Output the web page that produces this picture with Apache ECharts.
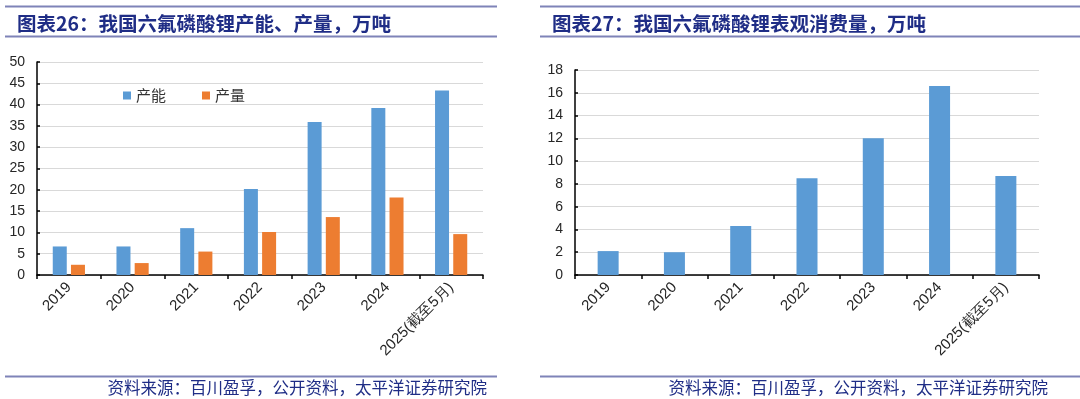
<!DOCTYPE html>
<html>
<head>
<meta charset="utf-8">
<script src="https://cdn.jsdelivr.net/npm/echarts@6/dist/echarts.min.js"></script>
<style>
  html, body { margin: 0; padding: 0; background: #fff; }
  #chart { width: 1080px; height: 399px; }
</style>
</head>
<body>
<div id="chart"></div>
<script>
// 图表26：产能、产量（万吨）
const years = ["2019", "2020", "2021", "2022", "2023", "2024", "2025(截至5月)"]
const capacity = [6.7, 6.7, 11.0, 20.2, 35.9, 39.2, 43.3]
const output = [2.4, 2.8, 5.5, 10.1, 13.6, 18.2, 9.6]
// 图表27：表观消费量（万吨）
const consumption = [2.1, 2.0, 4.3, 8.5, 12.0, 16.6, 8.7]

const NAVY = "#1f2d86"
const RULE = "#7f83b8"
const latin = "'Liberation Sans', Arial, sans-serif"
const cjk = "'Noto Sans CJK SC', sans-serif"

const chart = echarts.init(document.getElementById("chart"))

function xAxis(gridIndex) {
  return {
    type: "category", gridIndex, data: years,
    axisLine: { lineStyle: { color: "#000", width: 1.5 } },
    axisTick: { show: true, alignWithLabel: false, length: 4, lineStyle: { color: "#000", width: 1.5 } },
    axisLabel: { rotate: 45, interval: 0, margin: 10, color: "#262626", fontSize: 15, fontFamily: latin },
  }
}

function yAxis(gridIndex, max, interval) {
  return {
    type: "value", gridIndex, min: 0, max, interval,
    axisLine: { show: true, lineStyle: { color: "#000", width: 1.5 } },
    axisTick: { show: true, inside: true, length: 3, lineStyle: { color: "#000", width: 1.5 } },
    axisLabel: { color: "#262626", fontSize: 14, fontFamily: latin, margin: 12 },
    splitLine: { lineStyle: { color: "#d9d9d9", width: 1.2 } },
  }
}

// 标题与来源的横线、文字
function panel(x0, x1, title, srcRight) {
  return [
    { type: "line", shape: { x1: x0, y1: 6.5, x2: x1, y2: 6.5 }, style: { stroke: RULE, lineWidth: 2 } },
    { type: "line", shape: { x1: x0, y1: 36.5, x2: x1, y2: 36.5 }, style: { stroke: RULE, lineWidth: 2 } },
    { type: "text", x: x0 + 12, y: 24, style: { text: title, fill: NAVY, font: "bold 19.5px " + cjk, textVerticalAlign: "middle" } },
    { type: "line", shape: { x1: x0, y1: 376.5, x2: x1, y2: 376.5 }, style: { stroke: RULE, lineWidth: 2 } },
    { type: "text", x: srcRight, y: 388, style: { text: "资料来源：百川盈孚，公开资料，太平洋证券研究院", fill: NAVY, font: "16.5px " + cjk, textAlign: "right", textVerticalAlign: "middle" } },
  ]
}

chart.setOption({
  animation: false,
  grid: [
    { left: 37, top: 62, width: 446, height: 213 },
    { left: 575, top: 70, width: 464, height: 205 },
  ],
  legend: {
    left: 118, top: 83, itemWidth: 8, itemHeight: 8, itemGap: 36, icon: "rect",
    textStyle: { fontSize: 15, color: "#333", fontFamily: cjk },
    data: ["产能", "产量"],
  },
  xAxis: [xAxis(0), xAxis(1)],
  yAxis: [yAxis(0, 50, 5), yAxis(1, 18, 2)],
  series: [
    { name: "产能", type: "bar", xAxisIndex: 0, yAxisIndex: 0, data: capacity, barWidth: 14, barGap: "30%", itemStyle: { color: "#5b9bd5" } },
    { name: "产量", type: "bar", xAxisIndex: 0, yAxisIndex: 0, data: output, barWidth: 14, itemStyle: { color: "#ed7d31" } },
    { name: "表观消费量", type: "bar", xAxisIndex: 1, yAxisIndex: 1, data: consumption, barWidth: 21, itemStyle: { color: "#5b9bd5" } },
  ],
  graphic: [
    ...panel(5, 497, "图表26：我国六氟磷酸锂产能、产量，万吨", 487),
    ...panel(540, 1080, "图表27：我国六氟磷酸锂表观消费量，万吨", 1048),
  ],
})
</script>
</body>
</html>
